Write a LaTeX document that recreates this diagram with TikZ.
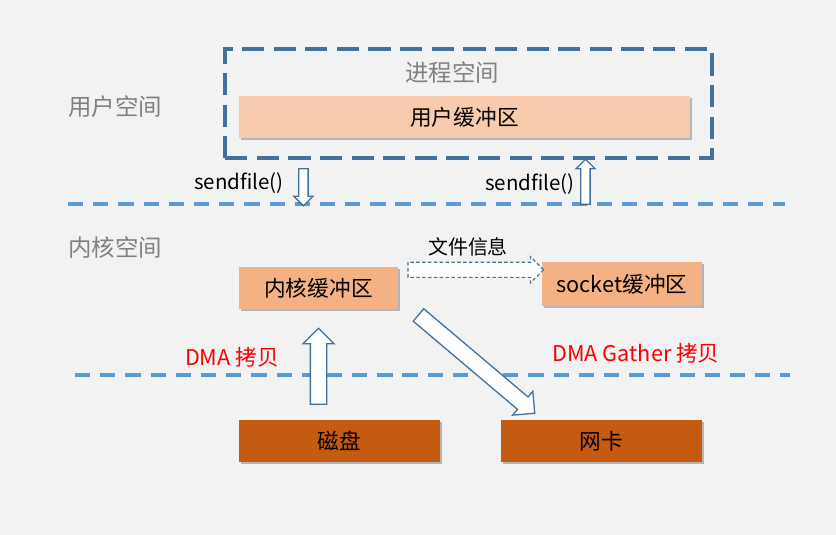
\documentclass[tikz,border=0pt]{standalone}
\usepackage{fontspec}
\setmainfont{Noto Sans CJK SC}
\usetikzlibrary{calc, shapes.arrows, shadows}

\definecolor{bgGray}{HTML}{F2F2F2}
\definecolor{procBlue}{HTML}{41719C}
\definecolor{lineBlue}{HTML}{5B9BD5}
\definecolor{userBuf}{HTML}{F8CBAD}
\definecolor{kernBuf}{HTML}{F4B183}
\definecolor{devBuf}{HTML}{C55A11}

\tikzset{
  buf/.style={minimum height=12.6mm, inner sep=0pt,
    font=\fontsize{18.5}{22}\selectfont,
    drop shadow={shadow xshift=2pt, shadow yshift=-2pt, opacity=0.25, fill=black}},
  procbox/.style={draw=procBlue, line width=2.6pt, dash pattern=on 19pt off 8pt},
  spacelabel/.style={text=gray, font=\fontsize{20}{24}\selectfont},
  sep/.style={draw=lineBlue, line width=2.8pt, dash pattern=on 13pt off 8.5pt},
  call/.style={font=\fontsize{17.5}{20}\selectfont},
  dma/.style={text=red, font=\fontsize{18.5}{22}\selectfont},
  harrow/.style={single arrow, draw=procBlue, fill=white, line width=1.1pt,
    inner xsep=0pt, single arrow tip angle=90, single arrow head indent=0pt},
  bigarrow/.style={harrow, inner ysep=2.25mm, single arrow head extend=2.25mm},
  smallarrow/.style={harrow, inner ysep=1.2mm, single arrow head extend=1.5mm},
  infoarrow/.style={harrow, line width=1pt, dash pattern=on 3pt off 2pt,
    inner ysep=2.1mm, single arrow head extend=1.65mm},
}

% hollow block arrow from #2 to #3
\newcommand\blockarrow[3][bigarrow]{%
  \path let \p1=($(#3)-(#2)$), \n1={veclen(\x1,\y1)}, \n2={atan2(\y1,\x1)} in
    node[#1, minimum height=\n1, rotate=\n2] at ($(#2)!0.5!(#3)$) {};}

\begin{document}
\begin{tikzpicture}[x=0.03cm, y=-0.03cm]
\fill[bgGray] (0,0) rectangle (836,535);
\useasboundingbox (0,0) rectangle (836,535);

% user space
\node[procbox, minimum width=146.1mm, minimum height=32.7mm] (proc) at (468.5,103.5) {};
\node[spacelabel] (proctitle) at (452,73) {进程空间};
\node[buf, fill=userBuf, minimum width=135.3mm] (ubuf) at (464.5,117) {用户缓冲区};
\node[spacelabel] (userspace) at (115,107) {用户空间};
\node[spacelabel] (kernspace) at (115,248) {内核空间};

\draw[sep] (68,204) -- (785,204);
\draw[sep] (75,375) -- (790,375);

% kernel space
\node[buf, fill=kernBuf, minimum width=47.7mm] (kbuf) at (318.5,288) {内核缓冲区};
\node[buf, fill=kernBuf, minimum width=48mm, minimum height=13.2mm] (sbuf) at (622,284) {socket缓冲区};

% hardware
\node[buf, fill=devBuf, minimum width=60.3mm] (disk) at (339.5,441) {磁盘};
\node[buf, fill=devBuf, minimum width=60.3mm] (nic) at (601.5,441) {网卡};

% labels
\node[call] (callin) at (239,183) {sendfile()};
\node[call] (callout) at (530,184) {sendfile()};
\node[font=\fontsize{17}{20}\selectfont] (fileinfo) at (468,247) {文件信息};
\node[dma] (dmain) at (232,357) {DMA 拷贝};
\node[dma] (dmaout) at (636,353) {DMA Gather 拷贝};

% arrows
\coordinate (inA) at ($(proc.south west)+(80,7)$);
\coordinate (inB) at ($(proc.south west)+(80,44)$);
\coordinate (outA) at ($(proc.south west)+(362,47)$);
\coordinate (outB) at ($(proc.south west)+(362,2)$);
\blockarrow[smallarrow]{inA}{inB}
\blockarrow[smallarrow]{outA}{outB}

\coordinate (infoA) at ($(kbuf.north east)+(6,3)$);
\coordinate (infoB) at ($(sbuf.north west)+(-2,8)$);
\blockarrow[infoarrow]{infoA}{infoB}

\coordinate (dmaA) at ($(kbuf.south)+(0,99)$);
\coordinate (dmaB) at ($(kbuf.south)+(0,23)$);
\blockarrow{dmaA}{dmaB}

\coordinate (gathA) at ($(kbuf.south east)+(17,3)$);
\coordinate (gathB) at ($(nic.north west)+(31,-9)$);
\blockarrow{gathA}{gathB}
\end{tikzpicture}
\end{document}
